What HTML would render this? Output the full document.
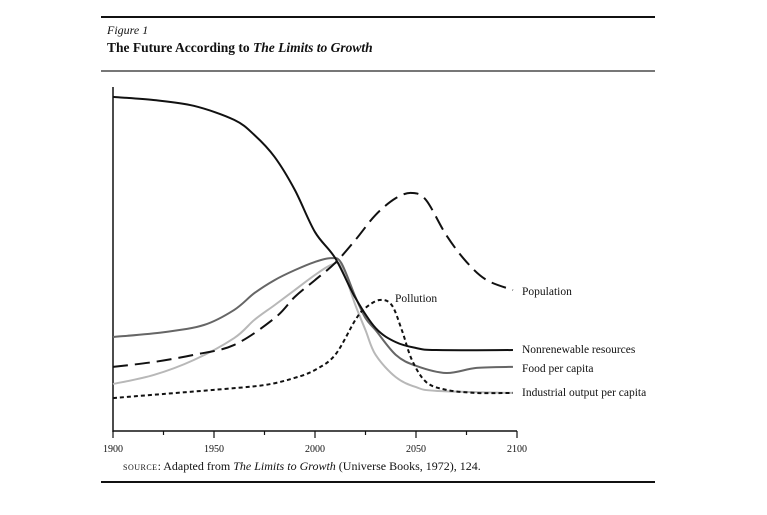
<!DOCTYPE html>
<html><head><meta charset="utf-8">
<style>
html,body{margin:0;padding:0;background:#fff;}
body{width:767px;height:515px;overflow:hidden;position:relative;font-family:"Liberation Serif",serif;color:#111;}
.rule{position:absolute;left:101px;width:554px;background:#111;}
</style></head><body>
<div class="rule" style="top:16px;height:2px;"></div>
<div style="position:absolute;left:107px;top:23px;font-size:12px;font-style:italic;">Figure 1</div>
<div style="position:absolute;left:107px;top:40px;font-size:13.5px;font-weight:bold;">The Future According to <i>The Limits to Growth</i></div>
<div class="rule" style="top:70px;height:1.5px;background:#777;"></div>
<div class="rule" style="top:481px;height:2px;"></div>
<div style="position:absolute;left:123px;top:459px;font-size:12px;"><span style="font-variant:small-caps;letter-spacing:0.5px">source</span>: Adapted from <i>The Limits to Growth</i> (Universe Books, 1972), 124.</div>
<svg id="chart" width="767" height="515" style="position:absolute;left:0;top:0" xmlns="http://www.w3.org/2000/svg"></svg>
<script>
const xTicks=[1900,1925,1950,1975,2000,2025,2050,2075,2100];
const xTickLabels=["1900","1950","2000","2050","2100"];
const resYears=[1900,1920,1940,1960,1970,1980,1990,2000,2010,2020,2030,2040,2050,2060,2098];
const resVals=[97.4,96.5,94.8,90.7,86.3,79.9,70.3,58.0,50.4,38.8,30.0,25.9,24.2,23.6,23.6];
const popYears=[1900,1920,1940,1960,1980,1990,2000,2010,2020,2030,2040,2048,2055,2065,2075,2085,2098];
const popVals=[18.7,20.1,22.2,25.1,32.9,39.1,44.0,49.0,55.7,63.0,67.9,69.4,67.3,57.1,49.3,44.0,41.1];
const foodYears=[1900,1925,1945,1960,1970,1980,1990,2000,2008,2013,2020,2025,2030,2040,2050,2065,2080,2098];
const foodVals=[27.4,28.8,30.9,35.3,40.2,44.0,46.9,49.3,50.4,49.0,39.1,32.9,29.4,22.2,19.0,16.9,18.4,18.7];
const indYears=[1900,1920,1940,1960,1970,1980,1990,2000,2008,2013,2020,2025,2030,2040,2050,2060,2098];
const indVals=[13.7,16.3,20.7,27.1,32.4,36.7,41.1,45.5,48.4,48.0,36.7,29.4,22.2,15.7,12.8,11.7,11.1];
const polYears=[1900,1925,1950,1975,1990,2000,2010,2020,2025,2032,2038,2043,2048,2055,2065,2080,2098];
const polVals=[9.6,10.8,12.0,13.4,15.5,17.8,22.2,32.4,35.9,38.2,36.7,29.4,20.7,14.3,12.0,11.1,11.1];
const labels=[["Pollution",395,302],["Population",522,295],["Nonrenewable resources",522,353],["Food per capita",522,372],["Industrial output per capita",522,396]];

const X0=113,X1=517,Y0=431,Y1=88;
const xs=y=>X0+(y-1900)/200*(X1-X0);
const ys=v=>Y0-v/100*(Y0-Y1);
const svg=document.getElementById('chart');
const NS="http://www.w3.org/2000/svg";
function mk(tag,attrs){const e=document.createElementNS(NS,tag);for(const k in attrs)e.setAttribute(k,attrs[k]);svg.appendChild(e);return e;}
function pathD(years,vals){
  const p=years.map((y,i)=>[xs(y),ys(vals[i])]);
  let d="M"+p[0][0]+","+p[0][1];
  for(let i=0;i<p.length-1;i++){
    const a=p[Math.max(0,i-1)],b=p[i],c=p[i+1],e=p[Math.min(p.length-1,i+2)];
    const c1=[b[0]+(c[0]-a[0])/6,b[1]+(c[1]-a[1])/6],c2=[c[0]-(e[0]-b[0])/6,c[1]-(e[1]-b[1])/6];
    d+=" C"+c1+" "+c2+" "+c;
  }
  return d;
}
let ax=mk('line',{x1:X0,y1:87,x2:X0,y2:Y0+1,stroke:'#111','stroke-width':1.5});

ax=mk('line',{x1:X0,y1:Y0,x2:X1,y2:Y0,stroke:'#111','stroke-width':1.5});

xTicks.forEach((t,i)=>{
  const l=mk('line',{x1:xs(t),y1:Y0,x2:xs(t),y2:Y0+(i%2?4:7),stroke:'#111','stroke-width':1.2});
  
  
});
xTickLabels.forEach(s=>{
  const t=mk('text',{x:xs(+s),y:Y0+21,'text-anchor':'middle','font-size':10,'font-family':'Liberation Serif, serif',fill:'#111'});
  t.textContent=s;
  
  
});
const series=[
 [indYears,indVals,'#b8b8b8','','industrial-output-line'],
 [foodYears,foodVals,'#666','','food-per-capita-line'],
 [polYears,polVals,'#111','4 3','pollution-line'],
 [popYears,popVals,'#111','15 7','population-line'],
 [resYears,resVals,'#111','','nonrenewable-resources-line']];
series.forEach(s=>{
  const p=mk('path',{d:pathD(s[0],s[1]),fill:'none',stroke:s[2],'stroke-width':2});
  if(s[3])p.setAttribute('stroke-dasharray',s[3]);
  
  
});
labels.forEach(l=>{
  const t=mk('text',{x:l[1],y:l[2],'font-size':11.5,'font-family':'Liberation Serif, serif',fill:'#111'});
  t.textContent=l[0];
  
  
});
</script>
</body></html>
